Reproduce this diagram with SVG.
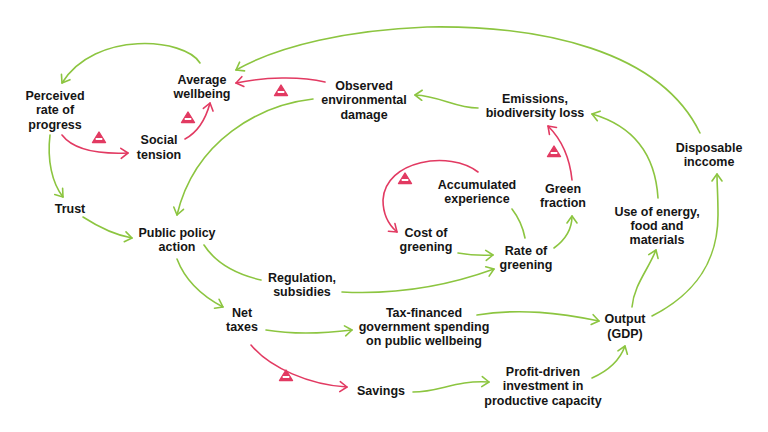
<svg xmlns="http://www.w3.org/2000/svg" width="768" height="432" viewBox="0 0 768 432">
<style>
.n text{font-family:"Liberation Sans",Arial,sans-serif;font-weight:700;font-size:12.5px;fill:#151515;text-anchor:middle}
.g{fill:none;stroke:#8cc540;stroke-width:1.6;stroke-linecap:round}
.r{fill:none;stroke:#e23a62;stroke-width:1.6;stroke-linecap:round}
.ga{marker-end:url(#ag)}
.ra{marker-end:url(#ar)}
</style>
<defs>
<marker id="ag" viewBox="-10 -7 12 14" refX="0" refY="0" markerWidth="12" markerHeight="14" markerUnits="userSpaceOnUse" orient="auto">
<path d="M-7,-5 L0,0 L-7,5" fill="none" stroke="#8cc540" stroke-width="1.6" stroke-linecap="round" stroke-linejoin="round"/>
</marker>
<marker id="ar" viewBox="-10 -7 12 14" refX="0" refY="0" markerWidth="12" markerHeight="14" markerUnits="userSpaceOnUse" orient="auto">
<path d="M-7,-5 L0,0 L-7,5" fill="none" stroke="#e23a62" stroke-width="1.6" stroke-linecap="round" stroke-linejoin="round"/>
</marker>
<g id="minus">
<path d="M-6.5,5.5 L0,-5 L6.5,5.5 Z" fill="#e23a62" stroke="#e23a62" stroke-width="1.4" stroke-linejoin="round"/>
<rect x="-3.3" y="1" width="6.6" height="2" fill="#fff"/>
</g>
</defs>

<g id="connectors">
<path class="g ga" d="M200,63 C185,38 95,30 62,83"/>
<path class="r ra" d="M62,135 C75,152 105,154 128,153"/>
<path class="r ra" d="M185,139 C198,132 206,118 210,103"/>
<path class="r ra" d="M325,82 C300,76 265,77 236,83"/>
<path class="g ga" d="M700,133 C660,50 540,25 427,27 C350,30 280,45 236,70"/>
<path class="g ga" d="M313,99 C260,105 195,140 177,215"/>
<path class="g ga" d="M50,135 C47,160 52,183 63,197"/>
<path class="g ga" d="M83,217 C100,228 115,235 132,238"/>
<path class="g ga" d="M478,108 C455,108 440,96 415,95"/>
<path class="g ga" d="M658,198 C655,150 630,125 592,114"/>
<path class="r ra" d="M572,180 C570,160 562,140 548,126"/>
<path class="r ra" d="M478,172 C450,150 385,160 383,200 C383,215 390,226 397,232"/>
<path class="g" d="M512,209 Q522,222 525,238"/>
<path class="g ga" d="M458,253 Q475,256 493,255"/>
<path class="g ga" d="M554,248 C565,240 572,230 572,216"/>
<path class="g" d="M204,245 C215,262 235,274 261,280"/>
<path class="g ga" d="M342,292 C400,295 450,285 494,269"/>
<path class="g ga" d="M177,259 C185,280 200,295 223,307"/>
<path class="g ga" d="M266,330 C290,334 320,334 352,330"/>
<path class="g ga" d="M477,315 C520,308 560,313 599,321"/>
<path class="r ra" d="M251,345 C270,368 310,385 347,387"/>
<path class="g ga" d="M413,392 C440,392 455,380 489,382"/>
<path class="g ga" d="M592,378 C610,370 620,360 625,346"/>
<path class="g ga" d="M632,307 C634,285 648,270 656,250"/>
<path class="g ga" d="M652,316 C695,294 718,262 718,215 C718,195 717,185 717,174"/>
<use href="#minus" x="99" y="137"/>
<use href="#minus" x="188" y="117"/>
<use href="#minus" x="281" y="90"/>
<use href="#minus" x="554" y="151"/>
<use href="#minus" x="405" y="178"/>
<use href="#minus" x="286" y="375"/>
</g>

<g id="average-wellbeing" class="n"><text x="202" y="84">Average</text><text x="202" y="98">wellbeing</text></g>
<g id="perceived-progress" class="n"><text x="55" y="100">Perceived</text><text x="55" y="114">rate of</text><text x="55" y="128.5">progress</text></g>
<g id="social-tension" class="n"><text x="159" y="143.5">Social</text><text x="159" y="158.5">tension</text></g>
<g id="observed-damage" class="n"><text x="364" y="89.5">Observed</text><text x="364" y="104">environmental</text><text x="364" y="118.5">damage</text></g>
<g id="emissions" class="n"><text x="535" y="102.5">Emissions,</text><text x="535" y="116.5">biodiversity loss</text></g>
<g id="disposable-income" class="n"><text x="709" y="151.5">Disposable</text><text x="709" y="165.5">inccome</text></g>
<g id="accumulated-experience" class="n"><text x="477" y="188.5">Accumulated</text><text x="477" y="202.5">experience</text></g>
<g id="green-fraction" class="n"><text x="563" y="192.5">Green</text><text x="563" y="207">fraction</text></g>
<g id="use-of-energy" class="n"><text x="657" y="215.5">Use of energy,</text><text x="657" y="229.5">food and</text><text x="657" y="243.5">materials</text></g>
<g id="cost-of-greening" class="n"><text x="426" y="236.5">Cost of</text><text x="426" y="251">greening</text></g>
<g id="rate-of-greening" class="n"><text x="526" y="254.5">Rate of</text><text x="526" y="269">greening</text></g>
<g id="trust" class="n"><text x="70" y="212.5">Trust</text></g>
<g id="public-policy" class="n"><text x="177" y="236.5">Public policy</text><text x="177" y="251">action</text></g>
<g id="regulation" class="n"><text x="302" y="281.5">Regulation,</text><text x="302" y="295.5">subsidies</text></g>
<g id="net-taxes" class="n"><text x="242" y="316.5">Net</text><text x="242" y="330.5">taxes</text></g>
<g id="tax-financed" class="n"><text x="424" y="316.5">Tax-financed</text><text x="424" y="331">government spending</text><text x="424" y="345">on public wellbeing</text></g>
<g id="savings" class="n"><text x="381" y="394.5">Savings</text></g>
<g id="profit-driven" class="n"><text x="543" y="375.5">Profit-driven</text><text x="543" y="390">investment in</text><text x="543" y="404.5">productive capacity</text></g>
<g id="output" class="n"><text x="625" y="322.5">Output</text><text x="625" y="337.5">(GDP)</text></g>
</svg>
